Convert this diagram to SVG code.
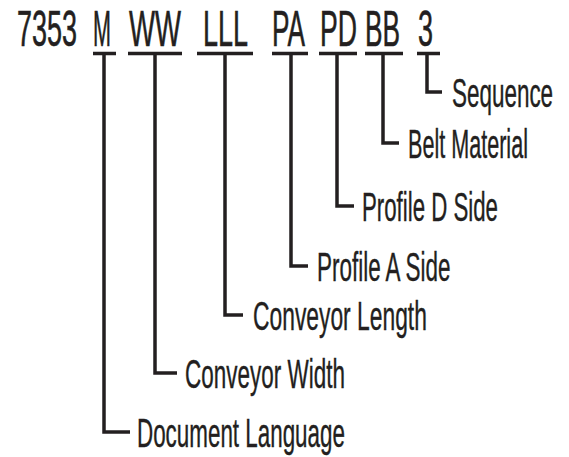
<svg xmlns="http://www.w3.org/2000/svg" width="569" height="457" viewBox="0 0 569 457">
<style>
.code{font-family:"Liberation Sans",Arial,sans-serif;font-size:50px;fill:#231f20;stroke:#231f20;stroke-width:0.6}
.lbl{font-family:"Liberation Sans",Arial,sans-serif;font-size:40px;fill:#231f20;stroke:#231f20;stroke-width:0.4}
.ln{stroke:#231f20;stroke-width:3.5;fill:none;stroke-linejoin:miter;stroke-linecap:butt}
</style>
<rect width="569" height="457" fill="#ffffff"/>
<g id="code">
<text class="code" transform="translate(17,46) scale(0.54,1)">7353</text>
</g>
<g id="node-M">
<text class="code" transform="translate(93,46) scale(0.432,1)">M</text>
<text class="lbl" transform="translate(137,447) scale(0.56,1)">Document Language</text>
</g>
<g id="node-WW">
<text class="code" transform="translate(129,46) scale(0.551,1)">WW</text>
<text class="lbl" transform="translate(185,388) scale(0.562,1)">Conveyor Width</text>
</g>
<g id="node-LLL">
<text class="code" transform="translate(203,46) scale(0.54,1)">LLL</text>
<text class="lbl" transform="translate(253,330) scale(0.571,1)">Conveyor Length</text>
</g>
<g id="node-PA">
<text class="code" transform="translate(272,46) scale(0.525,1)">PA</text>
<text class="lbl" transform="translate(317,281) scale(0.561,1)">Profile A Side</text>
</g>
<g id="node-PD">
<text class="code" transform="translate(320,46) scale(0.533,1)">PD</text>
<text class="lbl" transform="translate(362,221) scale(0.556,1)">Profile D Side</text>
</g>
<g id="node-BB">
<text class="code" transform="translate(365,46) scale(0.525,1)">BB</text>
<text class="lbl" transform="translate(408,158) scale(0.54,1)">Belt Material</text>
</g>
<g id="node-3">
<text class="code" transform="translate(418,46) scale(0.54,1)">3</text>
<text class="lbl" transform="translate(452,107) scale(0.561,1)">Sequence</text>
</g>
<g id="connectors">
<path class="ln" d="M93 53.5H116 M128 53.5H182 M197 53.5H253 M272 53.5H308 M319 53.5H357 M365 53.5H403 M417 53.5H440"/>
<path class="ln" d="M104 53.5V432H130"/>
<path class="ln" d="M155 53.5V373H177"/>
<path class="ln" d="M225 53.5V315H243"/>
<path class="ln" d="M291 53.5V266H308"/>
<path class="ln" d="M337 53.5V206H354"/>
<path class="ln" d="M383 53.5V143H399"/>
<path class="ln" d="M427 53.5V92H442"/>
</g>
</svg>
